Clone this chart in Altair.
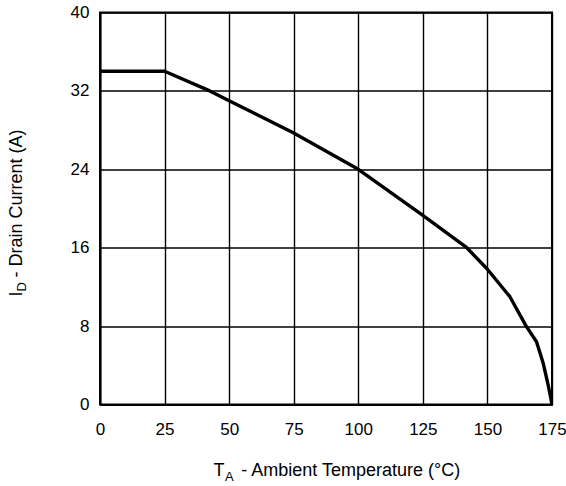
import altair as alt
import pandas as pd

# Derating curve: drain current vs ambient temperature
temps = [0, 25, 42.5, 50, 75, 100, 125, 142, 150, 158.7, 165, 169, 171.6, 173.5, 174.5, 175]
currents = [34, 34, 32, 31, 27.7, 24, 19.3, 16, 13.8, 11.0, 8, 6.4, 4.2, 2.0, 0.7, 0]

x_ticks = [0, 25, 50, 75, 100, 125, 150, 175]
y_ticks = [0, 8, 16, 24, 32, 40]

FONT = "Liberation Sans"
W, H = 452, 392

df = pd.DataFrame({"T": temps, "I": currents})

line = alt.Chart(df).mark_line(
    color="black", strokeWidth=3.4, strokeJoin="round", clip=True
).encode(
    x=alt.X(
        "T:Q",
        scale=alt.Scale(domain=[0, 175], nice=False, zero=False),
        axis=alt.Axis(
            values=x_ticks, title=None, grid=True, gridColor="black", gridWidth=1.4,
            gridOpacity=1, ticks=False, tickSize=0, domain=True, domainColor="black",
            domainWidth=2, labelFont=FONT, labelFontSize=17, labelColor="black",
            labelPadding=17, labelFlush=False,
        ),
    ),
    y=alt.Y(
        "I:Q",
        scale=alt.Scale(domain=[0, 40], nice=False),
        axis=alt.Axis(
            values=y_ticks, title=None, grid=True, gridColor="black", gridWidth=1.4,
            gridOpacity=1, ticks=False, tickSize=0, domain=True, domainColor="black",
            domainWidth=2, labelFont=FONT, labelFontSize=17, labelColor="black",
            labelPadding=11, labelFlush=False,
        ),
    ),
)

# Axis titles with subscripts, built from pieces
x_title = pd.DataFrame({
    "txt": ["T", "A", " - Ambient Temperature (\u00b0C)"],
    "px": [113.6, 125.0, 141.2],
    "py": [463.5, 468.0, 463.5],
    "fs": [18, 13, 18],
})
y_title = pd.DataFrame({
    "txt": ["I", "D", " - Drain Current (A)"],
    "px": [-78.5, -74.5, -78.5],
    "py": [284.0, 279.0, 265.0],
    "fs": [18, 13, 18],
})

def title_layer(frame, angle):
    layers = []
    for _, r in frame.iterrows():
        layers.append(
            alt.Chart(pd.DataFrame({"t": [r["txt"]]})).mark_text(
                font=FONT, fontSize=float(r["fs"]), color="black", align="left",
                baseline="alphabetic", angle=angle,
            ).encode(
                text="t:N", x=alt.value(float(r["px"])), y=alt.value(float(r["py"]))
            )
        )
    return layers

chart = alt.layer(
    line, *title_layer(x_title, 0), *title_layer(y_title, 270)
).properties(
    width=W,
    height=H,
    autosize=alt.AutoSizeParams(type="none"),
    padding={"left": 100, "top": 12.5, "right": 14, "bottom": 81.5},
    background="white",
).configure_view(stroke="black", strokeWidth=2)

chart.save("out.html", embed_options={"renderer": "svg", "actions": False})
